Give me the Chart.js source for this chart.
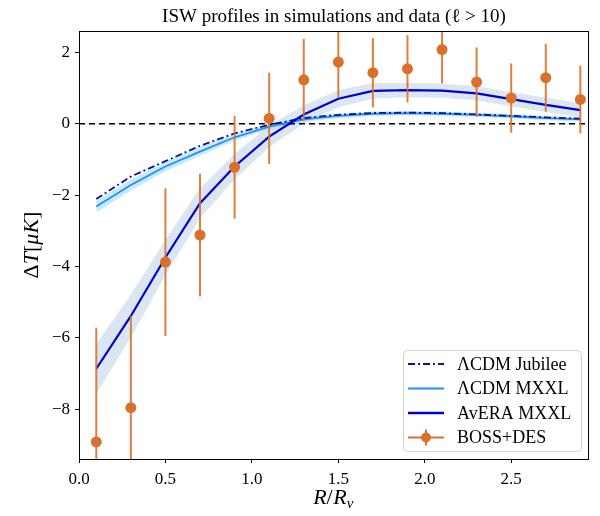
<!DOCTYPE html>
<html>
<head>
<meta charset="utf-8">
<script src="https://cdn.jsdelivr.net/npm/chart.js@4.4.1/dist/chart.umd.min.js"></script>
<style>
  body { margin: 0; background: #fff; }
  #wrap { width: 600px; height: 516px; }
</style>
</head>
<body>
<div id="wrap"><canvas id="isw" width="600" height="516"></canvas></div>
<script>
// radial bins R/Rv
const rBins = [0.1, 0.3, 0.5, 0.7, 0.9, 1.1, 1.3, 1.5, 1.7, 1.9, 2.1, 2.3, 2.5, 2.7, 2.9];

// BOSS+DES measurement and 1-sigma errors
const bossDes = [-8.92, -7.96, -3.88, -3.12, -1.22, 0.15, 1.23, 1.73, 1.43, 1.54, 2.08, 1.17, 0.72, 1.29, 0.68];
const bossErr = [3.2, 2.57, 2.07, 1.72, 1.44, 1.28, 1.15, 1.0, 0.97, 0.94, 0.95, 0.97, 0.97, 0.95, 0.95];

// simulations
const lcdmJubilee = [-2.11, -1.48, -1.05, -0.62, -0.27, -0.03, 0.16, 0.25, 0.30, 0.31, 0.30, 0.26, 0.22, 0.18, 0.14];
const lcdmMxxl = [-2.32, -1.72, -1.2, -0.78, -0.38, -0.08, 0.12, 0.22, 0.28, 0.30, 0.28, 0.25, 0.21, 0.16, 0.12];
const lcdmMxxlErr = [0.17, 0.15, 0.13, 0.12, 0.1, 0.08, 0.07, 0.06, 0.06, 0.06, 0.06, 0.06, 0.06, 0.06, 0.06];
const averaMxxl = [-6.87, -5.39, -3.75, -2.23, -1.20, -0.36, 0.26, 0.70, 0.92, 0.94, 0.93, 0.85, 0.69, 0.53, 0.38];
const averaErr = [0.7, 0.6, 0.5, 0.42, 0.36, 0.3, 0.26, 0.24, 0.22, 0.2, 0.2, 0.2, 0.2, 0.2, 0.2];

const xTicks = [0, 0.5, 1.0, 1.5, 2.0, 2.5];
const yTicks = [-8, -6, -4, -2, 0, 2];

const SERIF = "'Liberation Serif', 'DejaVu Serif', serif";
const ORANGE = "#d9712c";
const NAVY = "#14148a";

const pts = (ys) => rBins.map((x, i) => ({ x, y: ys[i] }));
const shifted = (ys, es, s) => rBins.map((x, i) => ({ x, y: ys[i] + s * es[i] }));

const errorBars = {
  id: "errorBars",
  beforeDatasetDraw(chart, args) {
    if (chart.data.datasets[args.index].label !== "BOSS+DES") return;
    const { ctx, chartArea, scales } = chart;
    ctx.save();
    ctx.beginPath();
    ctx.rect(chartArea.left, chartArea.top, chartArea.width, chartArea.height);
    ctx.clip();
    ctx.strokeStyle = "rgba(217,113,44,0.9)";
    ctx.lineWidth = 2;
    rBins.forEach((r, i) => {
      const px = scales.x.getPixelForValue(r);
      ctx.beginPath();
      ctx.moveTo(px, scales.y.getPixelForValue(bossDes[i] - bossErr[i]));
      ctx.lineTo(px, scales.y.getPixelForValue(bossDes[i] + bossErr[i]));
      ctx.stroke();
    });
    ctx.restore();
  },
};

function drawPieces(ctx, pieces, x, y) {
  // pieces: [text, font, dy]
  pieces.forEach(([t, f, dy]) => {
    ctx.font = f;
    ctx.fillText(t, x, y + (dy || 0));
    x += ctx.measureText(t).width;
  });
  return x;
}

const decorations = {
  id: "decorations",
  afterDraw(chart) {
    const { ctx, chartArea: a } = chart;
    ctx.save();
    // frame
    ctx.strokeStyle = "#000";
    ctx.lineWidth = 1;
    ctx.strokeRect(a.left + 0.5, a.top + 0.5, a.width - 1, a.height);

    ctx.fillStyle = "#000";
    ctx.textBaseline = "alphabetic";
    // title
    ctx.font = "19px " + SERIF;
    ctx.textAlign = "center";
    ctx.fillText("ISW profiles in simulations and data (\u2113 > 10)", (a.left + a.right) / 2, 22);

    // x label R/R_v
    ctx.textAlign = "left";
    const it = "italic 22px " + SERIF;
    const up = "22px " + SERIF;
    const sub = "italic 15px " + SERIF;
    ctx.font = it;
    let w = ctx.measureText("R").width * 2 + 2;
    ctx.font = up; w += ctx.measureText("/").width;
    ctx.font = sub; w += ctx.measureText("v").width;
    drawPieces(ctx, [["R", it], ["/", up], [" ", "2px " + SERIF], ["R", it], ["v", sub, 4]], (a.left + a.right) / 2 - w / 2, 504);

    // y label  ΔT[μK]
    ctx.translate(38, (a.top + a.bottom) / 2);
    ctx.rotate(-Math.PI / 2);
    const yl = [["\u0394", up], ["T", it], ["[", up], ["\u03bc", it], ["K", it], ["]", up]];
    let wy = 0;
    yl.forEach(([t, f]) => { ctx.font = f; wy += ctx.measureText(t).width; });
    drawPieces(ctx, yl, -wy / 2, 0);
    ctx.restore();

    // legend
    ctx.save();
    const lx = 403, ly = 350, lw = 178, lh = 101;
    ctx.fillStyle = "rgba(255,255,255,0.85)";
    ctx.strokeStyle = "#d0d0d0";
    ctx.lineWidth = 1;
    ctx.beginPath();
    ctx.roundRect(lx + 0.5, ly + 0.5, lw, lh, 4);
    ctx.fill();
    ctx.stroke();
    const rows = [
      { t: "\u039bCDM Jubilee", c: NAVY, w: 2, d: [7, 3, 2, 3] },
      { t: "\u039bCDM MXXL", c: "#1e90ff", w: 2, d: [] },
      { t: "AvERA MXXL", c: "#0000cd", w: 2.5, d: [] },
      { t: "BOSS+DES", c: ORANGE, w: 2, d: [], err: true },
    ];
    ctx.font = "18px " + SERIF;
    ctx.textBaseline = "middle";
    ctx.textAlign = "left";
    rows.forEach((r, i) => {
      const yy = ly + 14 + i * 24.5;
      ctx.strokeStyle = r.c;
      ctx.lineWidth = r.w;
      ctx.setLineDash(r.d);
      ctx.beginPath();
      ctx.moveTo(408, yy);
      ctx.lineTo(444, yy);
      ctx.stroke();
      ctx.setLineDash([]);
      if (r.err) {
        ctx.beginPath();
        ctx.moveTo(426, yy - 8);
        ctx.lineTo(426, yy + 8);
        ctx.stroke();
        ctx.fillStyle = r.c;
        ctx.beginPath();
        ctx.arc(426, yy, 5, 0, Math.PI * 2);
        ctx.fill();
      }
      ctx.fillStyle = "#000";
      ctx.fillText(r.t, 457, yy + 1);
    });
    ctx.restore();
  },
};

new Chart(document.getElementById("isw"), {
  type: "line",
  data: {
    datasets: [
      // AvERA band
      { label: "averaHi", data: shifted(averaMxxl, averaErr, 1), borderWidth: 0, pointRadius: 0, fill: false, order: 20 },
      { label: "averaLo", data: shifted(averaMxxl, averaErr, -1), borderWidth: 0, pointRadius: 0, fill: "-1",
        backgroundColor: "rgba(176,200,226,0.45)", order: 20 },
      // MXXL band
      { label: "mxxlHi", data: shifted(lcdmMxxl, lcdmMxxlErr, 1), borderWidth: 0, pointRadius: 0, fill: false, order: 20 },
      { label: "mxxlLo", data: shifted(lcdmMxxl, lcdmMxxlErr, -1), borderWidth: 0, pointRadius: 0, fill: "-1",
        backgroundColor: "rgba(135,206,250,0.45)", order: 20 },
      { label: "zero", data: [{ x: 0, y: 0 }, { x: 2.95, y: 0 }], borderColor: "#000", borderWidth: 1.5,
        borderDash: [6, 4], pointRadius: 0, order: 9 },
      { label: "\u039bCDM MXXL", data: pts(lcdmMxxl), borderColor: "#1e90ff", borderWidth: 1.8, pointRadius: 0, order: 8 },
      { label: "\u039bCDM Jubilee", data: pts(lcdmJubilee), borderColor: NAVY, borderWidth: 1.8,
        borderDash: [7, 3, 2, 3], pointRadius: 0, order: 7 },
      { label: "AvERA MXXL", data: pts(averaMxxl), borderColor: "#0000cd", borderWidth: 2.2, pointRadius: 0, order: 6 },
      { label: "BOSS+DES", type: "scatter", data: pts(bossDes), showLine: false, pointRadius: 5.5,
        pointBackgroundColor: ORANGE, pointBorderWidth: 0, order: 1 },
    ],
  },
  options: {
    responsive: false,
    animation: false,
    events: [],
    layout: { padding: { left: 0, right: 11, top: 31, bottom: 0 } },
    elements: { line: { tension: 0 } },
    plugins: { legend: { display: false }, tooltip: { enabled: false }, title: { display: false } },
    scales: {
      x: {
        type: "linear",
        min: 0,
        max: 2.95,
        afterBuildTicks: (s) => { s.ticks = xTicks.map((v) => ({ value: v })); },
        afterFit: (s) => { s.height = 57; },
        border: { display: false },
        grid: { drawOnChartArea: false, tickLength: 4, tickColor: "#000", lineWidth: 1 },
        ticks: { color: "#000", padding: 6, maxRotation: 0, font: { family: SERIF, size: 17 },
          callback: (v) => v.toFixed(1) },
      },
      y: {
        min: -9.4,
        max: 2.6,
        afterBuildTicks: (s) => { s.ticks = yTicks.map((v) => ({ value: v })); },
        afterFit: (s) => { s.width = 79; },
        border: { display: false },
        grid: { drawOnChartArea: false, tickLength: 4, tickColor: "#000", lineWidth: 1 },
        ticks: { color: "#000", padding: 5, font: { family: SERIF, size: 17 },
          callback: (v) => (v < 0 ? "\u2212" + Math.abs(v) : String(v)) },
      },
    },
  },
  plugins: [errorBars, decorations],
});
</script>
</body>
</html>
